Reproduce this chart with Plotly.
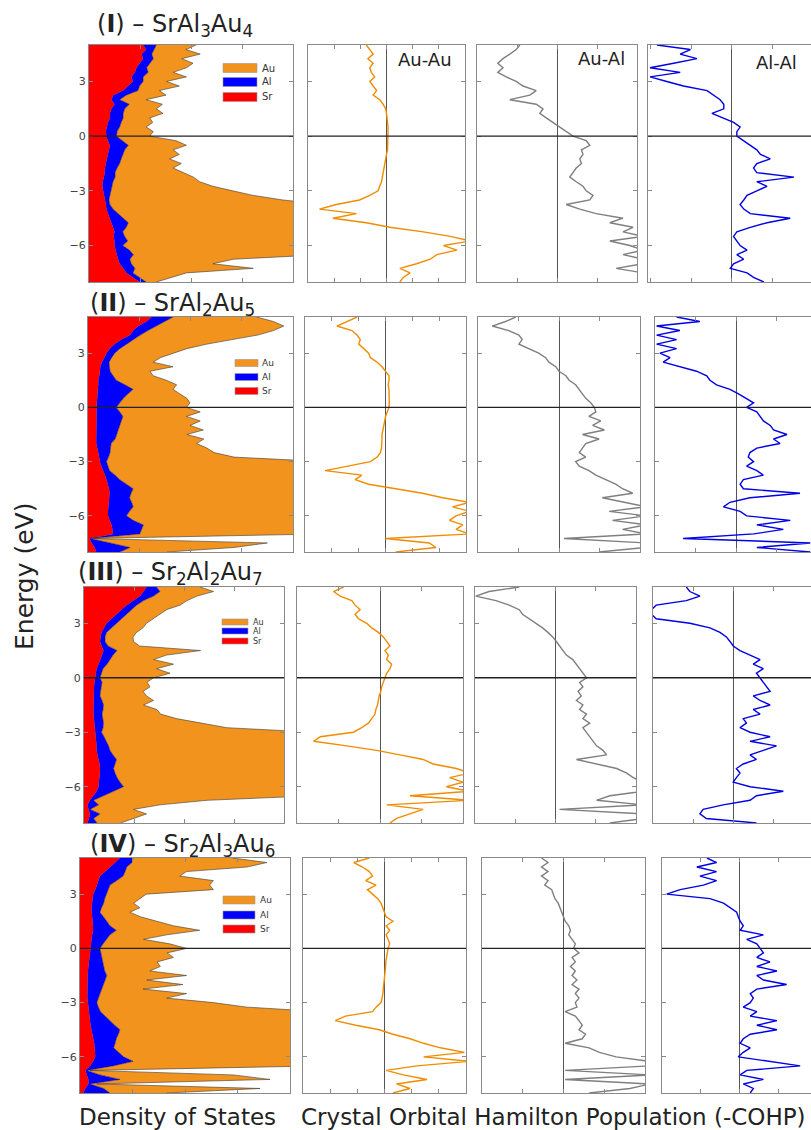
import plotly.graph_objects as go

W, H = 811, 1130

# ---------------- data ----------------
energy = [5.0, 4.75, 4.5, 4.25, 4.0, 3.75, 3.5, 3.25, 3.0, 2.75,
          2.5, 2.25, 2.0, 1.75, 1.5, 1.25, 1.0, 0.75, 0.5, 0.25,
          0.0, -0.25, -0.5, -0.75, -1.0, -1.25, -1.5, -1.75, -2.0, -2.25,
          -2.5, -2.75, -3.0, -3.25, -3.5, -3.75, -4.0, -4.25, -4.5, -4.75,
          -5.0, -5.25, -5.5, -5.75, -6.0, -6.25, -6.5, -6.75, -7.0, -7.25,
          -7.5, -7.75, -8.0]

# partial DOS (states/eV) -- (I) SrAl3Au4
sr_I = [1.06, 1.12, 1.03, 1.06, 0.99, 0.93, 0.90, 0.83, 0.86, 0.76,
        0.67, 0.47, 0.44, 0.50, 0.44, 0.41, 0.41, 0.37, 0.35, 0.33,
        0.34, 0.37, 0.41, 0.39, 0.37, 0.34, 0.33, 0.31, 0.31, 0.29,
        0.27, 0.26, 0.27, 0.29, 0.31, 0.33, 0.34, 0.37, 0.41, 0.44,
        0.47, 0.50, 0.48, 0.50, 0.50, 0.52, 0.54, 0.57, 0.60, 0.67,
        0.73, 0.86, 0.99]
al_I = [0.26, 0.16, 0.20, 0.20, 0.20, 0.20, 0.26, 0.23, 0.20, 0.23,
        0.29, 0.26, 0.16, 0.29, 0.26, 0.26, 0.26, 0.26, 0.25, 0.22,
        0.20, 0.29, 0.36, 0.31, 0.29, 0.29, 0.27, 0.24, 0.20, 0.22,
        0.20, 0.18, 0.16, 0.12, 0.08, 0.08, 0.13, 0.20, 0.26, 0.33,
        0.26, 0.16, 0.22, 0.26, 0.16, 0.27, 0.33, 0.23, 0.23, 0.23,
        0.13, 0.13, 0.13]
au_I = [0.78, 0.62, 0.95, 0.56, 0.85, 0.78, 0.49, 0.85, 0.46, 0.78,
        0.42, 0.78, 0.52, 0.65, 0.62, 0.78, 0.52, 0.62, 0.52, 0.71,
        0.65, 1.05, 1.14, 0.95, 1.11, 0.95, 1.21, 1.10, 1.34, 1.54,
        1.70, 1.99, 2.39, 2.81, 3.41, 4.20, 4.13, 4.03, 3.93, 3.84,
        3.87, 3.93, 3.90, 3.84, 3.93, 3.80, 3.74, 2.03, 1.60, 2.32,
        1.05, 0.65, 0.20]

# (II) SrAl2Au5
sr_II = [1.24, 1.14, 0.98, 0.88, 0.82, 0.65, 0.52, 0.42, 0.36, 0.31,
         0.27, 0.24, 0.23, 0.22, 0.20, 0.20, 0.19, 0.18, 0.18, 0.17,
         0.16, 0.16, 0.16, 0.16, 0.16, 0.16, 0.16, 0.16, 0.16, 0.18,
         0.20, 0.22, 0.23, 0.26, 0.29, 0.33, 0.36, 0.39, 0.41, 0.42,
         0.42, 0.41, 0.40, 0.39, 0.39, 0.42, 0.46, 0.48, 0.49, 0.03,
         0.07, 0.13, 0.16]
al_II = [0.42, 0.36, 0.36, 0.29, 0.20, 0.23, 0.23, 0.20, 0.16, 0.15,
         0.14, 0.18, 0.20, 0.27, 0.35, 0.52, 0.69, 0.60, 0.51, 0.45,
         0.39, 0.46, 0.52, 0.49, 0.46, 0.42, 0.40, 0.37, 0.29, 0.26,
         0.23, 0.18, 0.13, 0.13, 0.13, 0.20, 0.26, 0.36, 0.47, 0.42,
         0.39, 0.44, 0.48, 0.42, 0.36, 0.46, 0.62, 0.57, 0.52, 0.01,
         0.36, 0.69, 0.46]
au_II = [1.63, 2.12, 2.48, 2.45, 2.29, 1.96, 1.57, 1.31, 1.14, 0.95,
         0.86, 1.24, 0.78, 0.78, 0.98, 1.01, 0.78, 1.01, 1.24, 1.37,
         1.37, 1.57, 1.24, 1.54, 1.37, 1.67, 1.37, 1.73, 1.67, 1.88,
         2.03, 2.45, 4.26, 4.23, 4.20, 4.10, 4.00, 3.87, 3.74, 3.77,
         3.80, 3.77, 3.74, 3.80, 3.87, 3.74, 3.54, 3.58, 3.61, 0.02,
         3.07, 2.03, 0.92]

# (III) Sr2Al2Au7
sr_III = [1.25, 1.19, 1.12, 0.99, 0.85, 0.75, 0.65, 0.55, 0.45, 0.40,
          0.35, 0.33, 0.32, 0.35, 0.39, 0.35, 0.32, 0.29, 0.25, 0.24,
          0.22, 0.21, 0.20, 0.19, 0.19, 0.19, 0.19, 0.19, 0.19, 0.19,
          0.20, 0.21, 0.22, 0.23, 0.24, 0.25, 0.25, 0.27, 0.29, 0.31,
          0.32, 0.32, 0.31, 0.29, 0.29, 0.25, 0.19, 0.12, 0.07, 0.09,
          0.12, 0.09, 0.07]
al_III = [0.20, 0.33, 0.27, 0.20, 0.20, 0.20, 0.20, 0.20, 0.20, 0.15,
          0.10, 0.09, 0.10, 0.13, 0.27, 0.23, 0.20, 0.17, 0.13, 0.11,
          0.10, 0.15, 0.15, 0.14, 0.13, 0.17, 0.20, 0.19, 0.17, 0.18,
          0.19, 0.17, 0.13, 0.17, 0.21, 0.24, 0.27, 0.31, 0.36, 0.31,
          0.27, 0.30, 0.35, 0.43, 0.50, 0.33, 0.20, 0.07, 0.22, 0.03,
          0.20, 0.10, 0.19]
au_III = [0.87, 1.07, 0.87, 0.87, 0.87, 0.70, 0.67, 0.63, 0.60, 0.63,
          0.60, 0.56, 0.57, 0.63, 1.67, 1.07, 0.87, 1.33, 1.07, 1.37,
          1.07, 0.90, 0.97, 0.85, 0.93, 1.03, 0.80, 1.08, 1.17, 1.48,
          1.93, 2.48, 4.25, 4.20, 4.15, 4.11, 4.08, 4.01, 3.95, 3.98,
          4.01, 3.98, 3.95, 3.88, 3.81, 4.01, 4.21, 2.27, 1.23, 0.87,
          0.93, 0.80, 0.47]

# (IV) Sr2Al3Au6
sr_IV = [0.76, 0.67, 0.57, 0.48, 0.38, 0.35, 0.32, 0.29, 0.25, 0.24,
         0.23, 0.22, 0.22, 0.23, 0.24, 0.25, 0.25, 0.23, 0.22, 0.20,
         0.19, 0.18, 0.17, 0.17, 0.16, 0.15, 0.15, 0.14, 0.14, 0.14,
         0.14, 0.14, 0.14, 0.15, 0.17, 0.18, 0.19, 0.20, 0.22, 0.24,
         0.25, 0.27, 0.28, 0.29, 0.29, 0.25, 0.19, 0.10, 0.13, 0.16,
         0.16, 0.10, 0.06]
al_IV = [0.25, 0.32, 0.32, 0.38, 0.44, 0.35, 0.25, 0.25, 0.25, 0.23,
         0.22, 0.19, 0.16, 0.22, 0.27, 0.32, 0.44, 0.34, 0.29, 0.24,
         0.19, 0.22, 0.24, 0.27, 0.29, 0.32, 0.36, 0.34, 0.30, 0.27,
         0.24, 0.21, 0.18, 0.20, 0.22, 0.30, 0.38, 0.46, 0.54, 0.49,
         0.44, 0.40, 0.36, 0.44, 0.54, 0.76, 0.44, 0.03, 0.25, 0.60,
         0.03, 0.35, 0.51]
au_IV = [1.90, 2.57, 2.29, 1.17, 1.08, 1.84, 1.90, 2.00, 0.76, 0.67,
         0.57, 0.73, 0.57, 0.70, 0.95, 1.21, 1.59, 1.08, 0.70, 1.27,
         1.65, 1.26, 1.37, 1.03, 1.08, 0.86, 1.52, 0.79, 1.52, 0.79,
         1.65, 1.30, 2.22, 2.83, 4.22, 4.13, 4.03, 3.94, 3.84, 3.87,
         3.90, 3.94, 3.97, 3.87, 3.78, 3.59, 3.97, 0.06, 2.54, 2.86,
         0.13, 2.98, 1.08]

# -COHP curves
auau_I = [-0.77, -0.64, -0.51, -0.71, -0.51, -0.64, -0.58, -0.45, -0.64, -0.51,
          -0.38, -0.51, -0.26, -0.13, -0.03, 0.00, 0.03, 0.04, 0.06, 0.06,
          0.06, 0.06, 0.06, 0.04, 0.00, -0.03, -0.06, -0.09, -0.13, -0.15,
          -0.19, -0.26, -0.32, -0.64, -1.03, -1.92, -2.56, -1.15, -2.05, -0.77,
          0.13, 1.41, 2.44, 3.20, 2.18, 2.69, 1.92, 1.67, 1.15, 0.51,
          0.90, 0.64, 0.51]
aual_I = [-0.93, -1.02, -1.18, -1.35, -1.48, -1.35, -1.48, -1.27, -1.02, -0.85,
          -0.52, -0.68, -1.18, -0.52, -0.35, -0.43, -0.27, -0.10, 0.07, 0.23,
          0.40, 0.73, 0.82, 0.61, 0.65, 0.57, 0.61, 0.48, 0.40, 0.32,
          0.48, 0.65, 0.73, 0.90, 0.82, 0.23, 0.57, 0.98, 1.65, 1.32,
          1.90, 1.65, 2.15, 1.32, 1.82, 2.15, 1.65, 2.15, 2.15, 1.48,
          2.15, 2.15, 2.15]
alal_I = [-1.84, -1.02, -1.27, -0.86, -1.43, -2.01, -1.27, -2.01, -1.60, -1.19,
          -0.61, -0.45, -0.29, -0.20, -0.20, -0.49, -0.20, 0.04, 0.20, 0.12,
          0.12, 0.29, 0.45, 0.61, 0.70, 0.94, 0.61, 0.53, 0.61, 1.52,
          0.61, 0.86, 0.61, 0.37, 0.29, 0.20, 0.29, 0.45, 1.43, 0.86,
          0.45, 0.12, 0.04, 0.12, 0.20, 0.37, 0.12, 0.29, 0.04, -0.04,
          0.37, 0.53, 0.78]

auau_II = [-1.06, -1.44, -1.81, -1.25, -1.06, -0.94, -1.00, -0.81, -0.63, -0.56,
           -0.31, -0.13, 0.00, 0.13, 0.13, 0.10, 0.13, 0.14, 0.15, 0.14,
           0.13, 0.06, 0.00, -0.03, -0.06, -0.09, -0.13, -0.13, -0.13, -0.15,
           -0.19, -0.31, -0.56, -1.38, -2.25, -0.88, -1.13, -0.63, 0.38, 1.38,
           2.13, 3.13, 2.50, 3.13, 2.63, 2.38, 2.88, 2.63, 3.13, 0.00,
           1.63, 1.88, 0.38]
aual_II = [-1.07, -1.32, -1.65, -1.24, -0.99, -0.91, -0.99, -0.74, -0.50, -0.33,
           -0.25, -0.08, 0.00, 0.17, 0.25, 0.41, 0.50, 0.58, 0.66, 0.79,
           0.87, 0.91, 0.74, 1.03, 0.83, 1.12, 0.58, 0.99, 0.66, 0.58,
           0.50, 0.66, 0.41, 0.50, 0.74, 0.91, 1.16, 1.40, 1.57, 1.82,
           1.07, 1.57, 2.15, 1.24, 2.15, 1.32, 2.15, 1.57, 2.15, 0.12,
           2.15, 2.15, 0.99]
alal_II = [-1.46, -0.89, -1.95, -1.38, -1.95, -1.46, -1.95, -1.46, -1.87, -1.62,
           -1.79, -1.38, -0.97, -0.72, -0.64, -0.48, -0.15, 0.06, 0.26, 0.43,
           0.26, 0.51, 0.59, 0.67, 0.84, 0.92, 1.25, 0.92, 1.08, 0.51,
           0.34, 0.30, 0.43, 0.26, 0.51, 0.67, 0.18, 0.10, 0.18, 1.57,
           0.34, -0.15, -0.31, 0.10, 0.26, 1.33, 0.51, 1.16, 0.43, -1.30,
           1.82, 0.51, 1.82]

auau_III = [-0.88, -1.12, -0.96, -0.68, -0.60, -0.48, -0.60, -0.52, -0.32, -0.20,
            -0.04, 0.08, 0.16, 0.24, 0.12, 0.20, 0.16, 0.28, 0.24, 0.16,
            0.12, 0.08, 0.04, 0.02, -0.02, -0.04, -0.06, -0.10, -0.12, -0.20,
            -0.28, -0.44, -0.64, -1.44, -1.60, -0.80, -0.08, 0.48, 1.04, 1.28,
            1.84, 2.16, 1.68, 2.00, 1.60, 2.16, 0.72, 2.16, 0.16, 1.04,
            0.72, 0.40, 0.24]
aual_III = [-0.90, -1.65, -1.98, -1.48, -1.15, -0.90, -0.82, -0.65, -0.48, -0.32,
            -0.19, -0.07, 0.02, 0.10, 0.18, 0.27, 0.43, 0.52, 0.60, 0.68,
            0.77, 0.60, 0.68, 0.56, 0.64, 0.52, 0.68, 0.60, 0.77, 0.68,
            0.85, 0.68, 0.77, 0.85, 0.93, 1.02, 1.18, 1.27, 0.52, 1.02,
            1.52, 1.77, 1.93, 2.18, 2.02, 2.18, 1.35, 1.02, 2.18, 0.10,
            2.18, 2.18, 1.35]
alal_III = [-1.17, -1.08, -0.83, -1.17, -1.92, -2.04, -2.04, -1.92, -1.08, -0.58,
            -0.33, -0.17, -0.08, 0.00, 0.17, 0.42, 0.67, 0.50, 0.75, 0.58,
            0.67, 0.75, 0.83, 0.92, 0.50, 0.67, 0.92, 0.50, 0.67, 0.25,
            0.33, 0.17, 0.42, 0.92, 0.42, 1.08, 0.75, 0.42, 0.58, 0.25,
            0.08, 0.17, 0.08, 0.00, 0.42, 1.25, 0.58, 0.42, -0.25, -0.75,
            -0.83, -0.67, 0.58]

auau_IV = [-0.56, -1.13, -0.81, -0.56, -0.44, -0.69, -0.31, -0.63, -0.44, -0.25,
           -0.13, -0.06, 0.00, 0.06, 0.31, 0.06, 0.19, 0.06, 0.13, 0.19,
           0.13, 0.10, 0.06, 0.05, 0.04, 0.03, 0.00, -0.01, -0.03, -0.04,
           -0.06, -0.09, -0.13, -0.31, -0.44, -1.44, -1.81, -1.06, -0.19, 0.31,
           0.94, 1.44, 2.06, 2.94, 1.44, 3.13, 1.19, 0.06, 0.69, 1.56,
           0.44, 0.94, 0.31]
aual_IV = [-0.54, -0.38, -0.54, -0.38, -0.54, -0.38, -0.46, -0.29, -0.25, -0.21,
           -0.13, -0.08, -0.04, 0.00, 0.04, 0.13, 0.17, 0.13, 0.21, 0.29,
           0.25, 0.38, 0.21, 0.29, 0.17, 0.29, 0.21, 0.33, 0.21, 0.38,
           0.29, 0.38, 0.29, 0.33, 0.04, 0.29, 0.38, 0.46, 0.38, 0.54,
           0.46, 0.04, 0.63, 0.88, 1.29, 2.13, 2.13, 0.04, 2.13, 0.04,
           2.13, 1.63, 0.63]
alal_IV = [-0.84, -0.59, -1.10, -0.59, -1.02, -0.59, -0.93, -1.53, -1.88, -0.76,
           -0.41, -0.24, -0.07, -0.03, 0.02, 0.10, 0.02, 0.62, 0.19, 0.45,
           0.53, 0.62, 0.45, 0.79, 0.45, 0.97, 0.45, 0.62, 1.22, 0.45,
           0.28, 0.36, 0.28, 0.10, 0.45, 0.28, 0.97, 0.45, 0.97, 0.28,
           0.10, 0.02, 0.28, 0.10, -0.03, 0.79, 1.57, 0.19, 0.02, 0.62,
           0.10, 0.36, 0.28]

energy_ticks = [-6, -3, 0, 3]
titles = ["(<b>I</b>) – SrAl<sub>3</sub>Au<sub>4</sub>",
          "(<b>II</b>) – SrAl<sub>2</sub>Au<sub>5</sub>",
          "(<b>III</b>) – Sr<sub>2</sub>Al<sub>2</sub>Au<sub>7</sub>",
          "(<b>IV</b>) – Sr<sub>2</sub>Al<sub>3</sub>Au<sub>6</sub>"]
bond_labels = ["Au-Au", "Au-Al", "Al-Al"]
element_labels = ["Au", "Al", "Sr"]

dos_rows = [(sr_I, al_I, au_I), (sr_II, al_II, au_II),
            (sr_III, al_III, au_III), (sr_IV, al_IV, au_IV)]
cohp_rows = [(auau_I, aual_I, alal_I), (auau_II, aual_II, alal_II),
             (auau_III, aual_III, alal_III), (auau_IV, aual_IV, alal_IV)]

# ---------------- style / layout ----------------
SR_C, AL_C, AU_C = "#FF0000", "#0000FF", "#F2931E"
COHP_C = ["#F08C00", "#7F7F7F", "#0000E6"]
FRAME = "#8A8A8A"
FONT = "DejaVu Sans"

rows_y = [(45, 282), (317, 552), (587, 823), (858, 1093)]
cols_x = [[(89, 293), (308, 465), (477, 637), (648, 811)],
          [(88, 293), (305, 466), (478, 640), (655, 811)],
          [(84, 284), (297, 463), (475, 636), (653, 811)],
          [(80, 290), (303, 466), (482, 645), (662, 811)]]
x_ranges = [[[0, 4], [-3, 3], [-2, 2], [-2.06, 1.94]],
            [[0, 4], [-3, 3], [-2, 2], [-1.99, 1.84]],
            [[0, 4], [-2, 2], [-2, 2], [-2.0, 1.94]],
            [[0, 4], [-3, 3], [-2, 2], [-2.0, 1.85]]]
title_pos = [(175, 25), (172, 304), (170, 573), (182, 845)]
legend_geo = [  # x0, x1, (centres), half-height, label x, font
    (223, 257, (68, 82, 97), 4.5, 260, 10),
    (235, 258, (363, 377, 391), 3.5, 260, 9),
    (222, 248, (622, 631, 641), 3.0, 251, 8),
    (223, 255, (900, 915, 929), 4.0, 258, 9)]


def px(x):
    return x / W


def py(y):
    return 1 - y / H


fig = go.Figure()
layout = dict(width=W, height=H, margin=dict(l=0, r=0, t=0, b=0),
              paper_bgcolor="white", plot_bgcolor="white",
              showlegend=False, font=dict(family=FONT, color="#222"))
shapes, annotations = [], []

for r in range(4):
    yt, yb = rows_y[r]
    for c in range(4):
        k = r * 4 + c + 1
        xa = "x" if k == 1 else f"x{k}"
        ya = "y" if k == 1 else f"y{k}"
        x0, x1 = cols_x[r][c]
        is_dos = c == 0
        layout["xaxis" if k == 1 else f"xaxis{k}"] = dict(
            domain=[px(x0), px(x1)], range=x_ranges[r][c], anchor=ya,
            showline=True, linecolor=FRAME, linewidth=1.3, mirror="ticks",
            ticks="inside", ticklen=4, tickcolor=FRAME, tickwidth=1, dtick=1,
            showticklabels=False, showgrid=False,
            zeroline=not is_dos, zerolinecolor="#555", zerolinewidth=1,
            fixedrange=True)
        layout["yaxis" if k == 1 else f"yaxis{k}"] = dict(
            domain=[py(yb), py(yt)], range=[-8, 5], anchor=xa,
            showline=True, linecolor=FRAME, linewidth=1.3,
            mirror=("ticks" if c < 3 else False),
            ticks="inside", ticklen=4, tickcolor=FRAME, tickwidth=1,
            tickvals=energy_ticks, showticklabels=is_dos,
            tickfont=dict(family=FONT, size=11, color="#444"),
            showgrid=False, zeroline=False, fixedrange=True)
        # Fermi level line
        shapes.append(dict(type="line", xref=f"{xa} domain", yref=ya,
                           x0=0, x1=1, y0=0, y1=0, layer="above",
                           line=dict(color="#222", width=1.3)))
        if is_dos:
            sr, al, au = dos_rows[r]
            for vals, fc, lc, lw in [(sr, SR_C, "#D00000", 0.4),
                                     (al, AL_C, "#000080", 0.5),
                                     (au, AU_C, "#3a3a3a", 0.6)]:
                fig.add_trace(go.Scatter(
                    x=vals, y=energy, mode="lines", stackgroup=f"dos{r}",
                    orientation="h", fillcolor=fc,
                    line=dict(color=lc, width=lw),
                    xaxis=xa, yaxis=ya, hoverinfo="skip"))
        else:
            fig.add_trace(go.Scatter(
                x=cohp_rows[r][c - 1], y=energy, mode="lines",
                line=dict(color=COHP_C[c - 1], width=1.4),
                xaxis=xa, yaxis=ya, hoverinfo="skip"))

    # title of the row
    tx, ty = title_pos[r]
    annotations.append(dict(xref="paper", yref="paper", x=px(tx), y=py(ty),
                            text=titles[r], showarrow=False,
                            xanchor="center", yanchor="middle",
                            font=dict(family=FONT, size=24, color="#222")))
    # element legend inside DOS panel
    lx0, lx1, centres, hh, lab_x, fs = legend_geo[r]
    for cy, fc, lab in zip(centres, [AU_C, AL_C, SR_C], element_labels):
        shapes.append(dict(type="rect", xref="paper", yref="paper",
                           x0=px(lx0), x1=px(lx1), y0=py(cy + hh), y1=py(cy - hh),
                           fillcolor=fc, line=dict(color="#999", width=0.6),
                           layer="above"))
        annotations.append(dict(xref="paper", yref="paper", x=px(lab_x), y=py(cy),
                                text=lab, showarrow=False, xanchor="left",
                                yanchor="middle",
                                font=dict(family=FONT, size=fs, color="#333")))

# bond labels in first row
for (bx, by), lab in zip([(425, 60), (601, 58), (776, 62)], bond_labels):
    annotations.append(dict(xref="paper", yref="paper", x=px(bx), y=py(by),
                            text=lab, showarrow=False, xanchor="center",
                            yanchor="middle",
                            font=dict(family=FONT, size=18, color="#222")))

annotations.append(dict(xref="paper", yref="paper", x=px(24), y=py(577),
                        text="Energy (eV)", textangle=-90, showarrow=False,
                        xanchor="center", yanchor="middle",
                        font=dict(family=FONT, size=25, color="#222")))
annotations.append(dict(xref="paper", yref="paper", x=px(177), y=py(1117),
                        text="Density of States", showarrow=False,
                        xanchor="center", yanchor="middle",
                        font=dict(family=FONT, size=23, color="#222")))
annotations.append(dict(xref="paper", yref="paper", x=px(553), y=py(1117),
                        text="Crystal Orbital Hamilton Population (-COHP)",
                        showarrow=False, xanchor="center", yanchor="middle",
                        font=dict(family=FONT, size=23, color="#222")))

layout["shapes"] = shapes
layout["annotations"] = annotations
fig.update_layout(**layout)
fig.write_html("out.html", config={"displayModeBar": False})
